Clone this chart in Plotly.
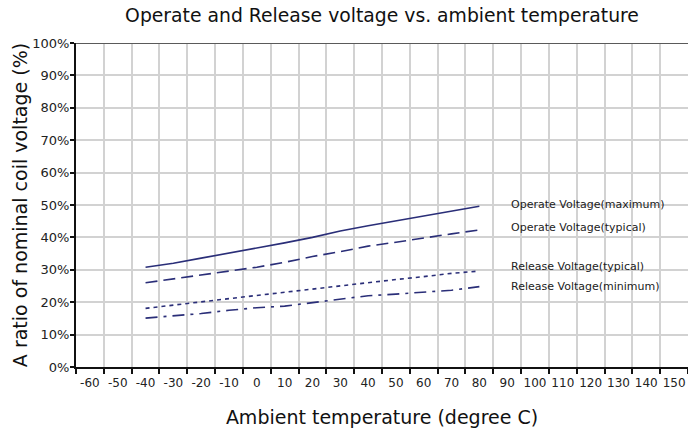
import plotly.graph_objects as go

categories = [str(v) for v in range(-60, 151, 10)]
temps = [str(v) for v in range(-40, 81, 10)]

operate_max = [30.8, 32.0, 33.6, 35.1, 36.6, 38.3, 40.0, 42.0, 43.6, 45.1, 46.7, 48.2, 49.6]
operate_typ = [26.0, 27.2, 28.5, 29.5, 30.8, 32.3, 34.1, 35.6, 37.3, 38.5, 39.9, 41.1, 42.3]
release_typ = [18.1, 19.2, 20.1, 21.1, 22.1, 23.0, 24.1, 25.2, 26.0, 27.0, 27.9, 28.9, 29.6]
release_min = [15.1, 15.8, 16.5, 17.5, 18.3, 18.8, 19.8, 21.0, 22.0, 22.5, 23.1, 23.7, 24.8]

series_names = ["Operate Voltage(maximum)", "Operate Voltage(typical)",
                "Release Voltage(typical)", "Release Voltage(minimum)"]
series_values = [operate_max, operate_typ, release_typ, release_min]
dashes = ["solid", "12px,6px", "4px,4px", "12px,6px,3px,6px"]
label_y = [50.1, 43.0, 30.9, 24.9]

y_ticks = list(range(0, 101, 10))
y_labels = [f"{v}%" for v in y_ticks]

FONT = "DejaVu Sans, Verdana, sans-serif"
LINE = "#2a2e78"

fig = go.Figure()
for name, vals, dash in zip(series_names, series_values, dashes):
    fig.add_trace(go.Scatter(x=temps, y=vals, mode="lines", name=name,
                             line=dict(color=LINE, width=1.6, dash=dash)))

for name, ly in zip(series_names, label_y):
    fig.add_annotation(x=15.05, y=ly, xref="x", yref="y", text=name, showarrow=False,
                       xanchor="left", yanchor="middle",
                       font=dict(family=FONT, size=11, color="#222"))

fig.add_shape(type="line", xref="paper", yref="y", x0=0, x1=1, y0=100, y1=100,
              line=dict(color="#5a5a5a", width=2))

fig.update_layout(
    width=688, height=436,
    margin=dict(l=76, r=0, t=43, b=69, autoexpand=False),
    paper_bgcolor="white", plot_bgcolor="white",
    showlegend=False,
    font=dict(family=FONT, color="#222"),
    title=dict(text="Operate and Release voltage vs. ambient temperature",
               x=0.5, xref="paper", xanchor="center",
               y=1 - 15 / 436, yref="container", yanchor="middle",
               font=dict(family=FONT, size=18.8, color="#111")),
)

fig.update_xaxes(
    type="category", categoryorder="array", categoryarray=categories,
    range=[-0.5, len(categories) - 0.5], automargin=False,
    tickson="boundaries", ticks="outside", ticklen=5, tickcolor="#111", tickwidth=1.5,
    tickangle=0, ticklabelstandoff=4,
    showgrid=True, gridcolor="#d2d2d2", gridwidth=1.5,
    showline=True, linecolor="#111", linewidth=2,
    tickfont=dict(family=FONT, size=12, color="#222"),
    title=dict(text="Ambient temperature (degree C)", standoff=21,
               font=dict(family=FONT, size=19, color="#111")),
)

fig.update_yaxes(
    range=[0, 100], tickvals=y_ticks, ticktext=y_labels, automargin=False,
    ticks="outside", ticklen=4, tickcolor="#111", tickwidth=1.5,
    ticklabelstandoff=-2,
    showgrid=True, gridcolor="#d2d2d2", gridwidth=1.5,
    showline=True, linecolor="#111", linewidth=2, zeroline=False,
    tickfont=dict(family=FONT, size=13, color="#222"),
    title=dict(text="A ratio of nominal coil voltage (%)", standoff=0,
               font=dict(family=FONT, size=19, color="#111")),
)

fig.write_html("out.html", config={"displayModeBar": False},
               post_script="document.body.style.margin='0';")
